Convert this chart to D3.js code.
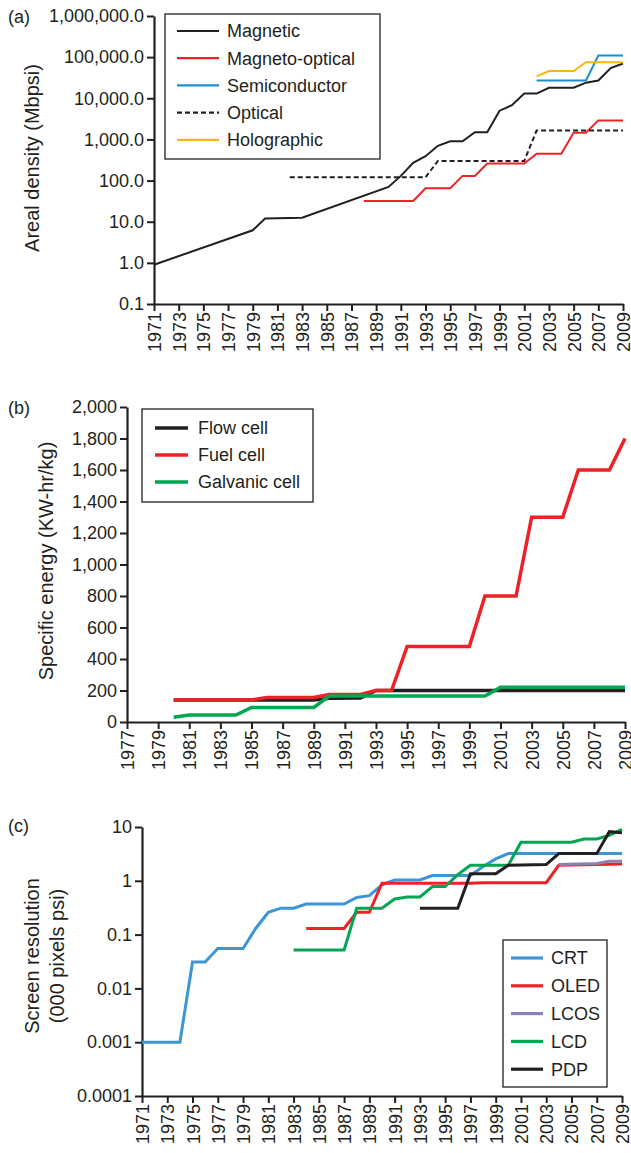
<!DOCTYPE html>
<html><head><meta charset="utf-8">
<script src="https://cdn.jsdelivr.net/npm/d3@7"></script>
<style>
body{margin:0;background:#fff;}
svg text{font-family:"Liberation Sans",Arial,Helvetica,sans-serif;fill:#231f20;}
</style></head>
<body><svg id="c" width="631" height="1153"></svg>
<script>
// ---------- Panel (a) data ----------
const aTickValues = [0.1, 1, 10, 100, 1000, 10000, 100000, 1000000];
const yearTicksA = d3.range(1971, 2010, 2);
const magneticYears  = [1971, 1979, 1980, 1983, 1990, 1991, 1992, 1993, 1994, 1995, 1996, 1997, 1998, 1999, 2000, 2001, 2002, 2003, 2005, 2006, 2007, 2008, 2009];
const magneticValues = [0.9, 6.2, 12, 12.5, 70, 130, 270, 390, 700, 900, 900, 1500, 1500, 5000, 6800, 13000, 13000, 18000, 18000, 24000, 27000, 54000, 70000];
const magnetoYears  = [1988, 1992, 1993, 1995, 1996, 1997, 1998, 2001, 2002, 2004, 2005, 2006, 2007, 2009];
const magnetoValues = [32, 32, 65, 65, 130, 130, 260, 260, 450, 450, 1450, 1450, 2900, 2900];
const semiYears  = [2002, 2006, 2007, 2009];
const semiValues = [27000, 27000, 110000, 110000];
const opticalYears  = [1982, 1993, 1994, 2001, 2002, 2009];
const opticalValues = [120, 120, 300, 300, 1650, 1650];
const holoYears  = [2002, 2003, 2005, 2006, 2009];
const holoValues = [34000, 46000, 46000, 75000, 75000];

// ---------- Panel (b) data ----------
const bTickValues = d3.range(0, 2001, 200);
const yearTicksB = d3.range(1977, 2010, 2);
const flowYears  = [1980, 1989, 1990, 1992, 1993, 2009];
const flowValues = [140, 140, 150, 152, 200, 200];
const fuelYears  = [1980, 1985, 1986, 1989, 1990, 1992, 1993, 1994, 1995, 1999, 2000, 2002, 2003, 2005, 2006, 2008, 2009];
const fuelValues = [140, 140, 155, 155, 175, 175, 200, 200, 480, 480, 800, 800, 1300, 1300, 1600, 1600, 1800];
const galvYears  = [1980, 1981, 1984, 1985, 1989, 1990, 2000, 2001, 2009];
const galvValues = [30, 44, 44, 92, 92, 165, 165, 220, 220];

// ---------- Panel (c) data ----------
const cTickValues = [0.0001, 0.001, 0.01, 0.1, 1, 10];
const cTickLabels = ["0.0001", "0.001", "0.01", "0.1", "1", "10"];
const yearTicksC = d3.range(1971, 2010, 2);
const crtYears  = [1971, 1974, 1975, 1976, 1977, 1979, 1980, 1981, 1982, 1983, 1984, 1987, 1988, 1989, 1990, 1991, 1993, 1994, 1997, 1998, 1999, 2000, 2009];
const crtValues = [0.001, 0.001, 0.031, 0.031, 0.055, 0.055, 0.13, 0.26, 0.31, 0.31, 0.37, 0.37, 0.49, 0.53, 0.84, 1.04, 1.04, 1.25, 1.25, 1.85, 2.55, 3.2, 3.2];
const oledYears  = [1984, 1987, 1988, 1989, 1990, 1997, 1998, 2003, 2004, 2009];
const oledValues = [0.13, 0.13, 0.26, 0.26, 0.9, 0.9, 0.92, 0.92, 1.95, 2.05];
const lcosYears  = [2004, 2007, 2008, 2009];
const lcosValues = [2.0, 2.1, 2.3, 2.3];
const lcdYears  = [1983, 1987, 1988, 1990, 1991, 1992, 1993, 1994, 1995, 1996, 1997, 2000, 2001, 2005, 2006, 2007, 2008, 2009];
const lcdValues = [0.052, 0.052, 0.31, 0.31, 0.46, 0.5, 0.5, 0.78, 0.78, 1.3, 1.95, 1.95, 5.2, 5.2, 6, 6, 7, 9];
const pdpYears  = [1993, 1996, 1997, 1999, 2000, 2003, 2004, 2007, 2008, 2009];
const pdpValues = [0.31, 0.31, 1.35, 1.35, 1.95, 2.0, 3.2, 3.2, 8.2, 7.8];

const INK = "#231f20";
const svg = d3.select("#c");
const FONT = 18;

function zip(xs, ys){ return xs.map((x,i)=>[x, ys[i]]); }

function drawPanel(o){
  const g = svg.append("g");
  const ya = g.append("g").attr("transform", `translate(${o.x.range()[0]},0)`)
    .call(d3.axisLeft(o.y).tickValues(o.yTicks).tickFormat(o.yFmt).tickSize(7).tickSizeOuter(0));
  const xa = g.append("g").attr("transform", `translate(0,${o.y.range()[0]})`)
    .call(d3.axisBottom(o.x).tickValues(o.xTicks).tickFormat(d3.format("d")).tickSize(7).tickSizeOuter(0));
  [ya, xa].forEach(a=>{
    a.select(".domain").attr("stroke", INK).attr("stroke-width", 2.2);
    a.selectAll(".tick line").attr("stroke", INK).attr("stroke-width", 2);
    a.selectAll("text").attr("font-size", FONT).attr("fill", INK)
      .attr("font-family", '"Liberation Sans",Arial,sans-serif');
  });
  ya.selectAll("text").attr("x", -10);
  xa.selectAll("text").attr("transform", "rotate(-90)")
    .attr("text-anchor", "end").attr("x", -8).attr("y", 0).attr("dy", "0.36em");
  const line = d3.line().x(d=>o.x(d[0])).y(d=>o.y(d[1]));
  o.series.forEach(s=>{
    g.append("path").datum(zip(s.years, s.values)).attr("d", line)
      .attr("fill", "none").attr("stroke", s.color).attr("stroke-width", o.lw)
      .attr("stroke-linejoin", "miter").attr("stroke-dasharray", s.dash || null);
  });
  const L = o.legend;
  g.append("rect").attr("x", L.x).attr("y", L.y).attr("width", L.w).attr("height", L.h)
    .attr("fill", "#fff").attr("stroke", INK).attr("stroke-width", 1.3);
  o.series.forEach((s, i)=>{
    const yy = L.y0 + i * L.dy;
    g.append("line").attr("x1", L.lx1).attr("x2", L.lx2).attr("y1", yy).attr("y2", yy)
      .attr("stroke", s.color).attr("stroke-width", L.lw).attr("stroke-dasharray", s.dash || null);
    g.append("text").attr("x", L.tx).attr("y", yy).attr("dy", "0.36em")
      .attr("font-size", FONT).text(s.name);
  });
  g.append("text").attr("x", 8).attr("y", o.labelY).attr("font-size", FONT).text(o.label);
  o.titles.forEach(t=>{
    g.append("text").attr("transform", `translate(${t.x},${t.y}) rotate(-90)`)
      .attr("text-anchor", "middle").attr("font-size", o.titleSize).text(t.text);
  });
}

// Panel (a)
drawPanel({
  x: d3.scaleLinear().domain([1971, 2009]).range([154, 623]),
  y: d3.scaleLog().domain([0.1, 1000000]).range([304, 16]),
  yTicks: aTickValues, yFmt: d3.format(",.1f"), xTicks: yearTicksA, lw: 2,
  series: [
    {name: "Magnetic", years: magneticYears, values: magneticValues, color: INK},
    {name: "Magneto-optical", years: magnetoYears, values: magnetoValues, color: "#ed2227"},
    {name: "Semiconductor", years: semiYears, values: semiValues, color: "#1a8fd2"},
    {name: "Optical", years: opticalYears, values: opticalValues, color: INK, dash: "5,3"},
    {name: "Holographic", years: holoYears, values: holoValues, color: "#fbb413"}
  ],
  legend: {x: 165, y: 14, w: 215, h: 145, y0: 31, dy: 27.2, lx1: 177, lx2: 219, tx: 227, lw: 2.2},
  label: "(a)", labelY: 23, titleSize: 20,
  titles: [{x: 39, y: 158, text: "Areal density (Mbpsi)"}]
});

// Panel (b)
drawPanel({
  x: d3.scaleLinear().domain([1977, 2009]).range([127, 625]),
  y: d3.scaleLinear().domain([0, 2000]).range([722, 407]),
  yTicks: bTickValues, yFmt: d3.format(","), xTicks: yearTicksB, lw: 3.5,
  series: [
    {name: "Flow cell", years: flowYears, values: flowValues, color: INK},
    {name: "Fuel cell", years: fuelYears, values: fuelValues, color: "#ed2227"},
    {name: "Galvanic cell", years: galvYears, values: galvValues, color: "#00a651"}
  ],
  legend: {x: 142, y: 409, w: 171, h: 93, y0: 428, dy: 27, lx1: 155, lx2: 188, tx: 198, lw: 3.5},
  label: "(b)", labelY: 414, titleSize: 20,
  titles: [{x: 53, y: 561, text: "Specific energy (KW-hr/kg)"}]
});

// Panel (c)
const cFmt = d => cTickLabels[cTickValues.indexOf(d)];
drawPanel({
  x: d3.scaleLinear().domain([1971, 2009]).range([142, 622]),
  y: d3.scaleLog().domain([0.0001, 10]).range([1096, 827]),
  yTicks: cTickValues, yFmt: cFmt, xTicks: yearTicksC, lw: 3,
  series: [
    {name: "CRT", years: crtYears, values: crtValues, color: "#3d95d4"},
    {name: "OLED", years: oledYears, values: oledValues, color: "#ed2227"},
    {name: "LCOS", years: lcosYears, values: lcosValues, color: "#8c80b9"},
    {name: "LCD", years: lcdYears, values: lcdValues, color: "#00a651"},
    {name: "PDP", years: pdpYears, values: pdpValues, color: INK}
  ],
  legend: {x: 503, y: 940, w: 104, h: 147, y0: 958, dy: 27.8, lx1: 511, lx2: 543, tx: 551, lw: 3.2},
  label: "(c)", labelY: 832, titleSize: 20,
  titles: [{x: 39, y: 956, text: "Screen resolution"}, {x: 64, y: 956, text: "(000 pixels psi)"}]
});
</script></body></html>
